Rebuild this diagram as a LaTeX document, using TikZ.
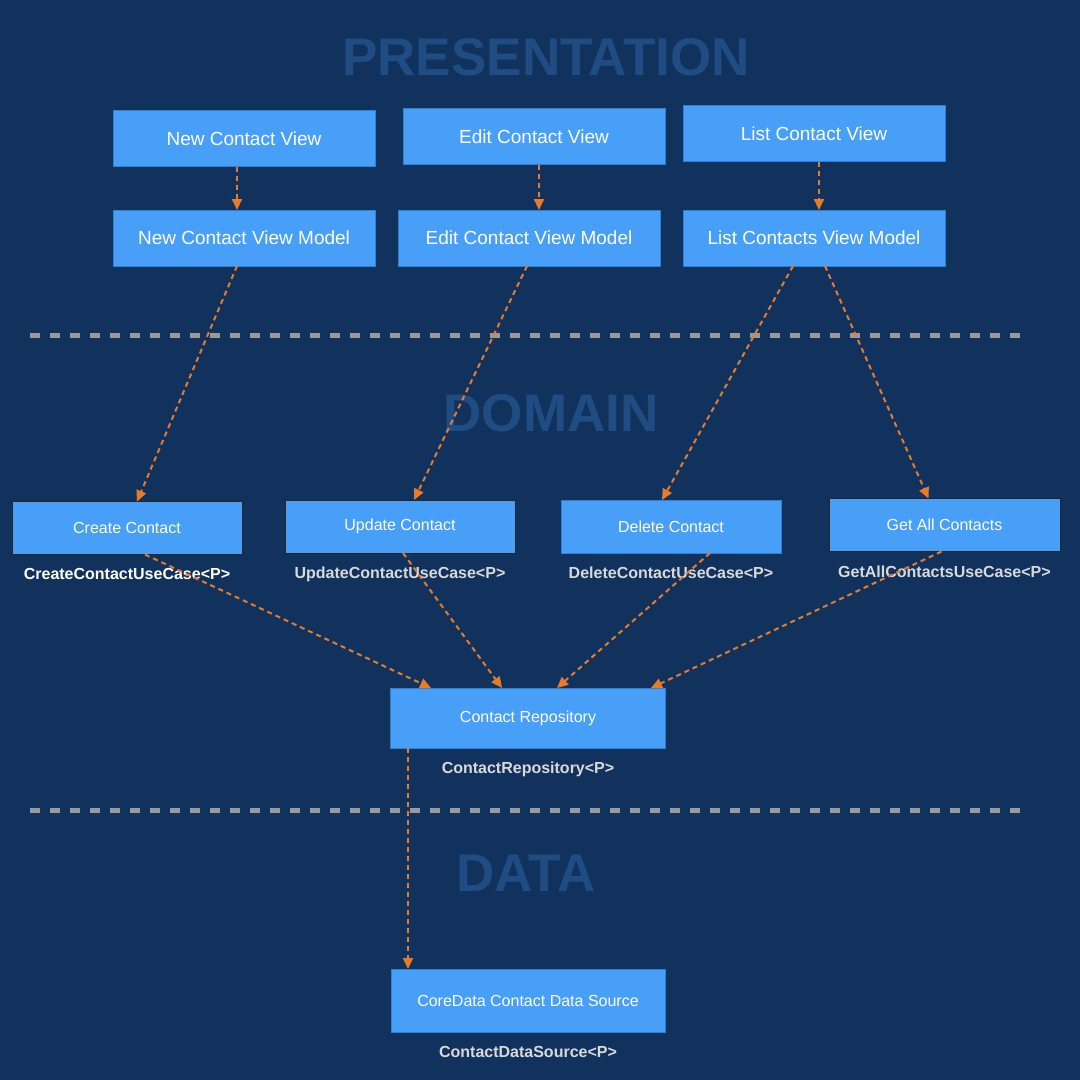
\documentclass[tikz,border=0pt]{standalone}
\usepackage{fontspec}
\setmainfont{Liberation Sans}
\usetikzlibrary{positioning,arrows.meta}

\definecolor{navy}{HTML}{12325E}
\definecolor{headblue}{HTML}{1F4C82}
\definecolor{boxblue}{HTML}{489FF7}
\definecolor{boxedge}{HTML}{2F7FD2}
\definecolor{labelgray}{HTML}{D9D9D9}
\definecolor{linkorange}{HTML}{E87B2A}
\definecolor{fencegray}{HTML}{9A9A9A}

\begin{document}
\begin{tikzpicture}[x=1pt, y=-1pt,
    unit/.style={fill=boxblue, draw=boxedge, line width=0.8pt,
        minimum width=262pt, minimum height=56pt,
        text=white, font=\fontsize{19}{22}\selectfont,
        inner sep=0pt, outer sep=0pt},
    usecase/.style={unit, minimum width=230pt, minimum height=53pt,
        font=\fontsize{16}{19}\selectfont},
    edged/.style={draw=black!85},
    caption/.style={text=labelgray, inner sep=0pt,
        font=\bfseries\fontsize{16}{19}\selectfont},
    layer/.style={text=headblue, inner sep=0pt,
        font=\bfseries\fontsize{53}{60}\selectfont},
    link/.style={draw=linkorange, line width=2pt,
        dash pattern=on 5pt off 4pt,
        -{Triangle[length=11pt, width=10pt]}},
    fence/.style={draw=fencegray, line width=5pt,
        dash pattern=on 10pt off 10pt},
    node distance = 14pt
    ]
    % background and layer names
    \fill[navy] (0,0) rectangle (1080,1080);
    \node[layer] (presentation) at (546,57) {PRESENTATION};
    \node[layer] (domain) at (551,413) {DOMAIN};
    \node[layer] (data) at (526,873) {DATA};

    \coordinate (fenceA) at (30,335);
    \coordinate (fenceB) at (1020,335);
    \coordinate (fenceC) at (30,810);
    \coordinate (fenceD) at (1020,810);
    \draw[fence] (fenceA) -- (fenceB);
    \draw[fence] (fenceC) -- (fenceD);

    % presentation
    \node[unit] (ncv) at (244,138.5) {New Contact View};
    \node[unit] (ecv) at (534,136.5) {Edit Contact View};
    \node[unit] (lcv) at (814,133.5) {List Contact View};
    \node[unit] (ncvm) at (244,238) {New Contact View Model};
    \node[unit] (ecvm) at (529,238) {Edit Contact View Model};
    \node[unit] (lcvm) at (814,238) {List Contacts View Model};

    % domain
    \node[usecase, edged] (create) at (127,528) {Create Contact};
    \node[usecase, edged] (update) at (400,526.5) {Update Contact};
    \node[usecase, minimum width=220pt] (delete) at (671,526.5) {Delete Contact};
    \node[usecase, edged, minimum width=231pt] (getall) at (944.5,525) {Get All Contacts};
    \node[caption, text=white, below=of create] (createL) {CreateContactUseCase<P>};
    \node[caption, below=of update] (updateL) {UpdateContactUseCase<P>};
    \node[caption, below=of delete] (deleteL) {DeleteContactUseCase<P>};
    \node[caption, below=of getall] (getallL) {GetAllContactsUseCase<P>};

    \node[usecase, minimum width=275pt, minimum height=60pt] (repo) at (528,718) {Contact Repository};
    \node[caption, below=of repo] (repoL) {ContactRepository<P>};

    % data
    \node[usecase, minimum width=274pt, minimum height=63pt] (source) at (528,1000.5) {CoreData Contact Data Source};
    \node[caption, below=of source] (sourceL) {ContactDataSource<P>};

    % dependencies
    \draw[link] ([xshift=-7pt]ncv.south) -- ([xshift=-7pt]ncvm.north);
    \draw[link] ([xshift=5pt]ecv.south) -- ([xshift=10pt]ecvm.north);
    \draw[link] ([xshift=5pt]lcv.south) -- ([xshift=5pt]lcvm.north);

    \draw[link] ([xshift=-7pt]ncvm.south) -- ([xshift=10pt]create.north);
    \draw[link] ([xshift=-2pt]ecvm.south) -- ([xshift=14pt]update.north);
    \draw[link] ([xshift=-21pt]lcvm.south) -- ([xshift=-9pt]delete.north);
    \draw[link] ([xshift=11pt]lcvm.south) -- ([xshift=-16pt]getall.north);

    \draw[link] ([xshift=18pt]create.south) -- ([xshift=-97pt]repo.north);
    \draw[link] ([xshift=3pt]update.south) -- ([xshift=-26pt]repo.north);
    \draw[link] ([xshift=39pt]delete.south) -- ([xshift=29pt]repo.north);
    \draw[link] ([xshift=-3pt]getall.south) -- ([xshift=123pt]repo.north);

    \draw[link] ([xshift=-120pt]repo.south) -- ([xshift=-120pt]source.north);
\end{tikzpicture}
\end{document}
